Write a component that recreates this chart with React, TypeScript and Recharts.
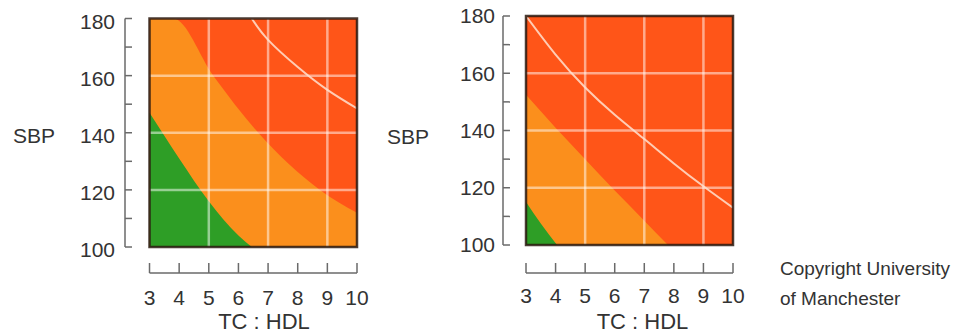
import React from 'react'
import {
  ComposedChart,
  Area,
  Line,
  XAxis,
  YAxis,
  ReferenceLine,
  ReferenceArea,
} from 'recharts'

// axis ticks
const tcTicks = [3, 4, 5, 6, 7, 8, 9, 10]
const sbpTicks = [100, 120, 140, 160, 180]
const sbpMinorTicks = [100, 110, 120, 130, 140, 150, 160, 170, 180]
const tcGrid = [5, 7, 9]
const sbpGrid = [120, 140, 160]

// whole risk window (high risk background)
const fullRange = [
  { tc: 3, sbp: 180 },
  { tc: 10, sbp: 180 },
]

// left panel boundaries
const leftGreen = [
  { tc: 3, sbp: 147 },
  { tc: 4, sbp: 131 },
  { tc: 5, sbp: 116 },
  { tc: 6, sbp: 104 },
  { tc: 6.45, sbp: 100 },
]
const leftOrange = [
  { tc: 3, sbp: 180 },
  { tc: 3.8, sbp: 180 },
  { tc: 5.15, sbp: 160 },
  { tc: 6.67, sbp: 140 },
  { tc: 8.75, sbp: 120 },
  { tc: 10, sbp: 112 },
]
const leftCurve = [
  { tc: 6.45, sbp: 180 },
  { tc: 7, sbp: 172.5 },
  { tc: 8, sbp: 163 },
  { tc: 9, sbp: 155 },
  { tc: 10, sbp: 148.5 },
]

// right panel boundaries
const rightGreen = [
  { tc: 3, sbp: 115 },
  { tc: 3.5, sbp: 107.5 },
  { tc: 4.05, sbp: 100 },
]
const rightOrange = [
  { tc: 3, sbp: 152.5 },
  { tc: 4, sbp: 141 },
  { tc: 5, sbp: 130 },
  { tc: 6, sbp: 119 },
  { tc: 7, sbp: 108.5 },
  { tc: 7.8, sbp: 100 },
]
const rightCurve = [
  { tc: 3, sbp: 180 },
  { tc: 4, sbp: 166.5 },
  { tc: 5, sbp: 155 },
  { tc: 6, sbp: 145.5 },
  { tc: 7, sbp: 137 },
  { tc: 8, sbp: 128.5 },
  { tc: 9, sbp: 120.5 },
  { tc: 10, sbp: 113 },
]

const RED = '#ff5518'
const ORANGE = '#fb8f1c'
const GREEN = '#2e9e26'
const TEXT = '#333333'
const AXIS = '#6a6a6a'
const FONT = '"Liberation Sans", Arial, sans-serif'

interface PanelProps {
  green: { tc: number; sbp: number }[]
  orange: { tc: number; sbp: number }[]
  curve: { tc: number; sbp: number }[]
  top: number
  right: number
  yAxisWidth: number
  xMin: number
  yMin: number
  xTickMargin: number
  yTickMargin: number
  yTickDy: number
  sbpOffset: number
  sbpDy: number
  tcDx: number
}

function RiskPanel(p: PanelProps) {
  const xTickLen = 0.236
  const yTickLen = 3.5
  return (
    <ComposedChart
      width={380}
      height={334}
      margin={{ top: p.top, right: p.right, bottom: 0, left: 0 }}
    >
      <XAxis
        type="number"
        dataKey="tc"
        domain={[p.xMin, 10]}
        allowDataOverflow
        ticks={tcTicks}
        axisLine={false}
        tickLine={false}
        tickSize={0}
        tickMargin={p.xTickMargin}
        height={61}
        tick={{ fill: TEXT, fontSize: 21, fontFamily: FONT }}
        label={{
          value: 'TC : HDL',
          position: 'insideBottom',
          offset: 5,
          dx: p.tcDx,
          fill: TEXT,
          fontSize: 22,
          fontFamily: FONT,
        }}
      />
      <YAxis
        type="number"
        dataKey="sbp"
        domain={[p.yMin, 180]}
        allowDataOverflow
        ticks={sbpTicks}
        axisLine={false}
        tickLine={false}
        tickSize={0}
        tickMargin={p.yTickMargin}
        width={p.yAxisWidth}
        tick={{ fill: TEXT, fontSize: 21, fontFamily: FONT, dy: p.yTickDy }}
        label={{
          value: 'SBP',
          position: 'insideLeft',
          offset: p.sbpOffset,
          dy: p.sbpDy,
          fill: TEXT,
          fontSize: 21,
          fontFamily: FONT,
        }}
      />
      <Area
        data={fullRange}
        dataKey="sbp"
        baseValue={100}
        type="linear"
        fill={RED}
        fillOpacity={1}
        stroke="none"
        isAnimationActive={false}
      />
      <Area
        data={p.orange}
        dataKey="sbp"
        baseValue={100}
        type="monotone"
        fill={ORANGE}
        fillOpacity={1}
        stroke="none"
        isAnimationActive={false}
      />
      <Area
        data={p.green}
        dataKey="sbp"
        baseValue={100}
        type="monotone"
        fill={GREEN}
        fillOpacity={1}
        stroke="none"
        isAnimationActive={false}
      />
      {tcGrid.map((v) => (
        <ReferenceLine
          key={`gx-${v}`}
          segment={[{ x: v, y: 100 }, { x: v, y: 180 }]}
          stroke="#ffffff"
          strokeOpacity={0.5}
          strokeWidth={2.5}
          ifOverflow="visible"
        />
      ))}
      {sbpGrid.map((v) => (
        <ReferenceLine
          key={`gy-${v}`}
          segment={[{ x: 3, y: v }, { x: 10, y: v }]}
          stroke="#ffffff"
          strokeOpacity={0.5}
          strokeWidth={2.5}
          ifOverflow="visible"
        />
      ))}
      <Line
        data={p.curve}
        dataKey="sbp"
        type="natural"
        stroke="#ffe2d0"
        strokeOpacity={0.85}
        strokeWidth={2}
        dot={false}
        activeDot={false}
        isAnimationActive={false}
      />
      <ReferenceArea
        x1={3}
        x2={10}
        y1={100}
        y2={180}
        fill="none"
        stroke="#2a1a10"
        strokeOpacity={0.85}
        strokeWidth={2.5}
        ifOverflow="visible"
        zIndex={900}
      />
      {/* detached y axis */}
      <ReferenceLine
        segment={[{ x: p.xMin, y: 100 }, { x: p.xMin, y: 180 }]}
        stroke={AXIS}
        strokeWidth={1.5}
        ifOverflow="visible"
      />
      {sbpMinorTicks.map((v) => (
        <ReferenceLine
          key={`ty-${v}`}
          segment={[{ x: p.xMin, y: v }, { x: p.xMin + xTickLen, y: v }]}
          stroke={AXIS}
          strokeWidth={1.5}
          ifOverflow="visible"
        />
      ))}
      {/* detached x axis */}
      <ReferenceLine
        segment={[{ x: 3, y: p.yMin }, { x: 10, y: p.yMin }]}
        stroke={AXIS}
        strokeWidth={1.5}
        ifOverflow="visible"
      />
      {tcTicks.map((v) => (
        <ReferenceLine
          key={`tx-${v}`}
          segment={[{ x: v, y: p.yMin }, { x: v, y: p.yMin + yTickLen }]}
          stroke={AXIS}
          strokeWidth={1.5}
          ifOverflow="visible"
        />
      ))}
    </ComposedChart>
  )
}

export default function App() {
  return (
    <div style={{ position: 'relative', width: 957, height: 334, background: '#fff' }}>
      <style>{'body{margin:0}'}</style>
      <div style={{ position: 'absolute', left: 0, top: 0 }}>
        <RiskPanel
          green={leftGreen}
          orange={leftOrange}
          curve={leftCurve}
          top={18.5}
          right={23}
          yAxisWidth={125}
          xMin={2.173}
          yMin={90.9}
          xTickMargin={17}
          yTickMargin={10}
          yTickDy={3}
          sbpOffset={13}
          sbpDy={-10}
          tcDx={23}
        />
      </div>
      <div style={{ position: 'absolute', left: 380, top: 0 }}>
        <RiskPanel
          green={rightGreen}
          orange={rightOrange}
          curve={rightCurve}
          top={16}
          right={27}
          yAxisWidth={123}
          xMin={2.222}
          yMin={90.22}
          xTickMargin={15.5}
          yTickMargin={8}
          yTickDy={0}
          sbpOffset={7}
          sbpDy={-7.5}
          tcDx={24.5}
        />
      </div>
      <div
        style={{
          position: 'absolute',
          left: 780,
          top: 254,
          fontFamily: FONT,
          fontSize: 19,
          lineHeight: '30px',
          color: TEXT,
          whiteSpace: 'nowrap',
        }}
      >
        Copyright University
        <br />
        of Manchester
      </div>
    </div>
  )
}
